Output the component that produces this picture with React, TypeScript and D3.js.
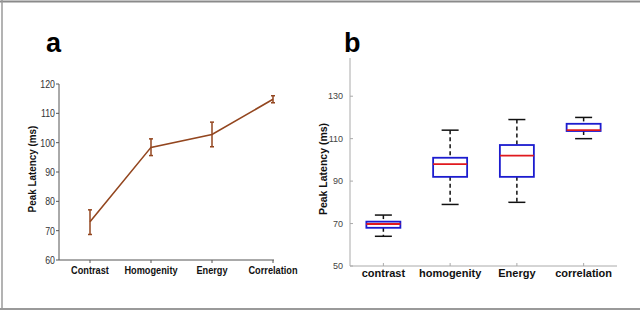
import * as React from "react";
import * as d3 from "d3";

// panel a: mean peak latency with error bars
const lineCategories = ["Contrast", "Homogenity", "Energy", "Correlation"];
const lineMeans = [73, 98.4, 102.8, 114.8];
const lineLow = [68.7, 95.6, 98.6, 113.6];
const lineHigh = [77.1, 101.3, 107, 116];
const lineTicks = [60, 70, 80, 90, 100, 110, 120];

// panel b: box plots
const boxCategories = ["contrast", "homogenity", "Energy", "correlation"];
const boxMin = [64, 79, 80, 110];
const boxQ1 = [68, 92, 92, 113.6];
const boxMedian = [69.8, 98, 102, 114];
const boxQ3 = [70.9, 101, 107, 117];
const boxMax = [74, 114, 119, 120];
const boxTicks = [50, 70, 90, 110, 130];

const sans = "'Liberation Sans', Arial, Helvetica, sans-serif";
// panel a uses a condensed face; no narrow font is installed so squeeze it
const squeeze = 0.8;

function PanelA() {
    const x = d3.scalePoint<string>().domain(lineCategories).range([90, 273]);
    const y = d3.scaleLinear().domain([60, 120]).range([260, 84]);
    const brown = "#93461f";

    const pts = lineMeans.map<[number, number]>((m, i) => [x(lineCategories[i]) || 0, y(m)]);
    const lineGenerator = d3.line();

    return <g>
        <text x={46} y={52} fontFamily={sans} fontWeight="bold" fontSize={27}>a</text>
        <line x1={59} y1={y(120)} x2={59} y2={y(60)} stroke="#555" strokeWidth={1} />
        <line x1={59} y1={y(60)} x2={274} y2={y(60)} stroke="#555" strokeWidth={1} />
        {lineTicks.map(t => <g key={t}>
            <line x1={56} x2={59} y1={y(t)} y2={y(t)} stroke="#555" />
            <text transform={`translate(55,${y(t)}) scale(${squeeze},1)`} dy="0.35em" textAnchor="end" fontFamily={sans} fontSize={11} fill="#333">{t}</text>
        </g>)}
        {lineCategories.map(c => <g key={c}>
            <line x1={x(c)} x2={x(c)} y1={y(60)} y2={y(60) + 3} stroke="#555" />
            <text transform={`translate(${x(c)},274) scale(${squeeze},1)`} textAnchor="middle" fontFamily={sans} fontWeight="bold" fontSize={11.5} fill="#111">{c}</text>
        </g>)}
        <text transform={`translate(36,169) rotate(-90) scale(0.86,1)`} textAnchor="middle" fontFamily={sans} fontWeight="bold" fontSize={11.5} fill="#111">Peak Latency (ms)</text>
        <path d={lineGenerator(pts) || ""} fill="none" stroke={brown} strokeWidth={1.6} />
        {lineCategories.map((c, i) => {
            const cx = x(c) || 0;
            return <g key={c} stroke={brown} strokeWidth={1.5}>
                <line x1={cx} x2={cx} y1={y(lineLow[i])} y2={y(lineHigh[i])} />
                <line x1={cx - 2} x2={cx + 2} y1={y(lineLow[i])} y2={y(lineLow[i])} />
                <line x1={cx - 2} x2={cx + 2} y1={y(lineHigh[i])} y2={y(lineHigh[i])} />
            </g>;
        })}
    </g>;
}

function PanelB() {
    const x = d3.scaleBand<string>().domain(boxCategories).range([350, 617]);
    const y = d3.scaleLinear().domain([50, 148]).range([266, 58]);
    const axisColor = "#aaa";
    const half = 17;
    const cap = 8.5;

    return <g>
        <text x={344} y={52} fontFamily={sans} fontWeight="bold" fontSize={27}>b</text>
        <line x1={350} y1={y(148)} x2={350} y2={y(50)} stroke={axisColor} />
        <line x1={350} y1={y(50)} x2={617} y2={y(50)} stroke={axisColor} />
        {boxTicks.map(t => <g key={t}>
            <line x1={350} x2={353} y1={y(t)} y2={y(t)} stroke={axisColor} />
            <text x={343} y={y(t)} dy="0.35em" textAnchor="end" fontFamily={sans} fontSize={9} fill="#444">{t}</text>
        </g>)}
        {boxCategories.map(c => {
            const cx = (x(c) || 0) + x.bandwidth() / 2;
            return <g key={c}>
                <line x1={cx} x2={cx} y1={y(50)} y2={y(50) - 3} stroke={axisColor} />
                <text x={cx} y={277} textAnchor="middle" fontFamily={sans} fontWeight="bold" fontSize={11} fill="#111">{c}</text>
            </g>;
        })}
        <text transform={`translate(327,169) rotate(-90)`} textAnchor="middle" fontFamily={sans} fontWeight="bold" fontSize={10.5} fill="#111">Peak Latency (ms)</text>
        {boxCategories.map((c, i) => {
            const cx = (x(c) || 0) + x.bandwidth() / 2;
            return <g key={c}>
                <line x1={cx} x2={cx} y1={y(boxMax[i])} y2={y(boxQ3[i])} stroke="#111" strokeWidth={1.5} strokeDasharray="4,3" />
                <line x1={cx} x2={cx} y1={y(boxQ1[i])} y2={y(boxMin[i])} stroke="#111" strokeWidth={1.5} strokeDasharray="4,3" />
                <line x1={cx - cap} x2={cx + cap} y1={y(boxMax[i])} y2={y(boxMax[i])} stroke="#111" strokeWidth={1.5} />
                <line x1={cx - cap} x2={cx + cap} y1={y(boxMin[i])} y2={y(boxMin[i])} stroke="#111" strokeWidth={1.5} />
                <rect x={cx - half} y={y(boxQ3[i])} width={half * 2} height={y(boxQ1[i]) - y(boxQ3[i])} fill="white" stroke="#1c1ccf" strokeWidth={1.8} />
                <line x1={cx - half} x2={cx + half} y1={y(boxMedian[i])} y2={y(boxMedian[i])} stroke="#e0191e" strokeWidth={1.8} />
            </g>;
        })}
    </g>;
}

export default function App() {
    return <svg width={640} height={311} style={{ position: "absolute", left: 0, top: 0, background: "white" }}>
        <rect width={640} height={311} fill="white" />
        <line x1={0} x2={640} y1={1.5} y2={1.5} stroke="#8a8a8a" strokeWidth={2} />
        <line x1={2} x2={2} y1={0} y2={309} stroke="#9a9a9a" strokeWidth={1.5} />
        <line x1={0} x2={640} y1={309} y2={309} stroke="#9a9a9a" strokeWidth={2} />
        <PanelA />
        <PanelB />
    </svg>;
}
